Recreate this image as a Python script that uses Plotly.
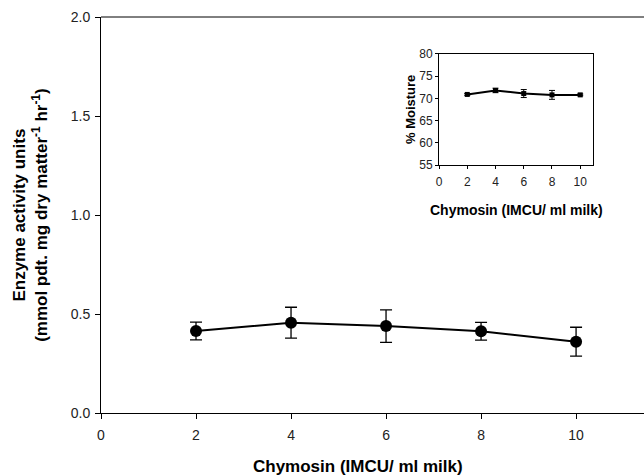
import plotly.graph_objects as go

chymosin = [2, 4, 6, 8, 10]
enzyme = [0.414, 0.456, 0.439, 0.413, 0.36]
enzyme_err = [0.045, 0.078, 0.082, 0.045, 0.073]
moisture = [70.9, 71.8, 71.1, 70.8, 70.8]
moisture_err = [0.2, 0.5, 0.9, 1.0, 0.2]

FONT = "Liberation Sans, Arial, sans-serif"

fig = go.Figure()
fig.add_trace(go.Scatter(
    x=chymosin, y=enzyme, mode="lines+markers",
    line=dict(color="black", width=2),
    marker=dict(color="black", size=12, symbol="circle"),
    error_y=dict(type="data", array=enzyme_err, color="black", thickness=1.3, width=6),
    xaxis="x", yaxis="y", showlegend=False, cliponaxis=False,
))
fig.add_trace(go.Scatter(
    x=chymosin, y=moisture, mode="lines+markers",
    line=dict(color="black", width=2),
    marker=dict(color="black", size=5, symbol="square"),
    error_y=dict(type="data", array=moisture_err, color="black", thickness=1, width=3),
    xaxis="x2", yaxis="y2", showlegend=False, cliponaxis=False,
))

fig.update_layout(
    width=644, height=476,
    margin=dict(l=101, r=0, t=17, b=63),
    paper_bgcolor="white", plot_bgcolor="white",
    font=dict(family=FONT, color="black"),
    xaxis=dict(
        domain=[0, 1], range=[0, 11.43], tickvals=[0, 2, 4, 6, 8, 10],
        showline=True, linecolor="black", linewidth=1, mirror=False,
        ticks="outside", ticklen=5, tickcolor="black", showgrid=False, zeroline=False,
        tickfont=dict(size=14, family=FONT, color="#222"), ticklabelstandoff=4,
    ),
    yaxis=dict(
        domain=[0, 1], range=[0, 2.0], tickvals=[0, 0.5, 1.0, 1.5, 2.0],
        ticktext=["0.0", "0.5", "1.0", "1.5", "2.0"],
        showline=True, linecolor="black", linewidth=1, mirror=False,
        ticks="outside", ticklen=5, tickcolor="black", showgrid=False, zeroline=False,
        tickfont=dict(size=14, family=FONT, color="#222"), ticklabelstandoff=2,
    ),
    xaxis2=dict(
        domain=[0.6225, 0.906], anchor="y2", range=[0, 10.9], tickvals=[0, 2, 4, 6, 8, 10],
        showline=True, linecolor="black", linewidth=1, mirror=True,
        ticks="outside", ticklen=3, tickcolor="black", showgrid=False, zeroline=False,
        tickfont=dict(size=12, family=FONT, color="#222"), ticklabelstandoff=2,
    ),
    yaxis2=dict(
        domain=[0.626, 0.9066], anchor="x2", range=[55, 80], tickvals=[55, 60, 65, 70, 75, 80],
        showline=True, linecolor="black", linewidth=1, mirror=True,
        ticks="outside", ticklen=3, tickcolor="black", showgrid=False, zeroline=False,
        tickfont=dict(size=12, family=FONT, color="#222"),
    ),
    annotations=[
        dict(text="<b>Chymosin (IMCU/ ml milk)</b>", xref="paper", yref="paper",
             x=0.473, y=-0.136, xanchor="center", yanchor="middle", showarrow=False,
             font=dict(size=17, family=FONT)),
        dict(text="<b>Enzyme activity units<br>(mmol pdt. mg dry matter<sup>-1</sup> hr<sup>-1</sup>)</b>",
             xref="paper", yref="paper", x=-0.131, y=0.5, xanchor="center", yanchor="middle",
             textangle=-90, showarrow=False, font=dict(size=17, family=FONT)),
        dict(text="<b>Chymosin (IMCU/ ml milk)</b>", xref="paper", yref="paper",
             x=(516 - 101) / 543, y=(413 - 210) / 396, xanchor="center", yanchor="middle",
             showarrow=False, font=dict(size=14, family=FONT)),
        dict(text="<b>% Moisture</b>", xref="paper", yref="paper",
             x=(410 - 101) / 543, y=(413 - 110) / 396, xanchor="center", yanchor="middle",
             textangle=-90, showarrow=False, font=dict(size=13, family=FONT)),
    ],
)

# top border line of main plot (no right border visible in reference)
fig.add_shape(type="line", xref="paper", yref="paper", x0=0, x1=1, y0=1, y1=1,
              line=dict(color="black", width=1))

fig.write_html("out.html")
